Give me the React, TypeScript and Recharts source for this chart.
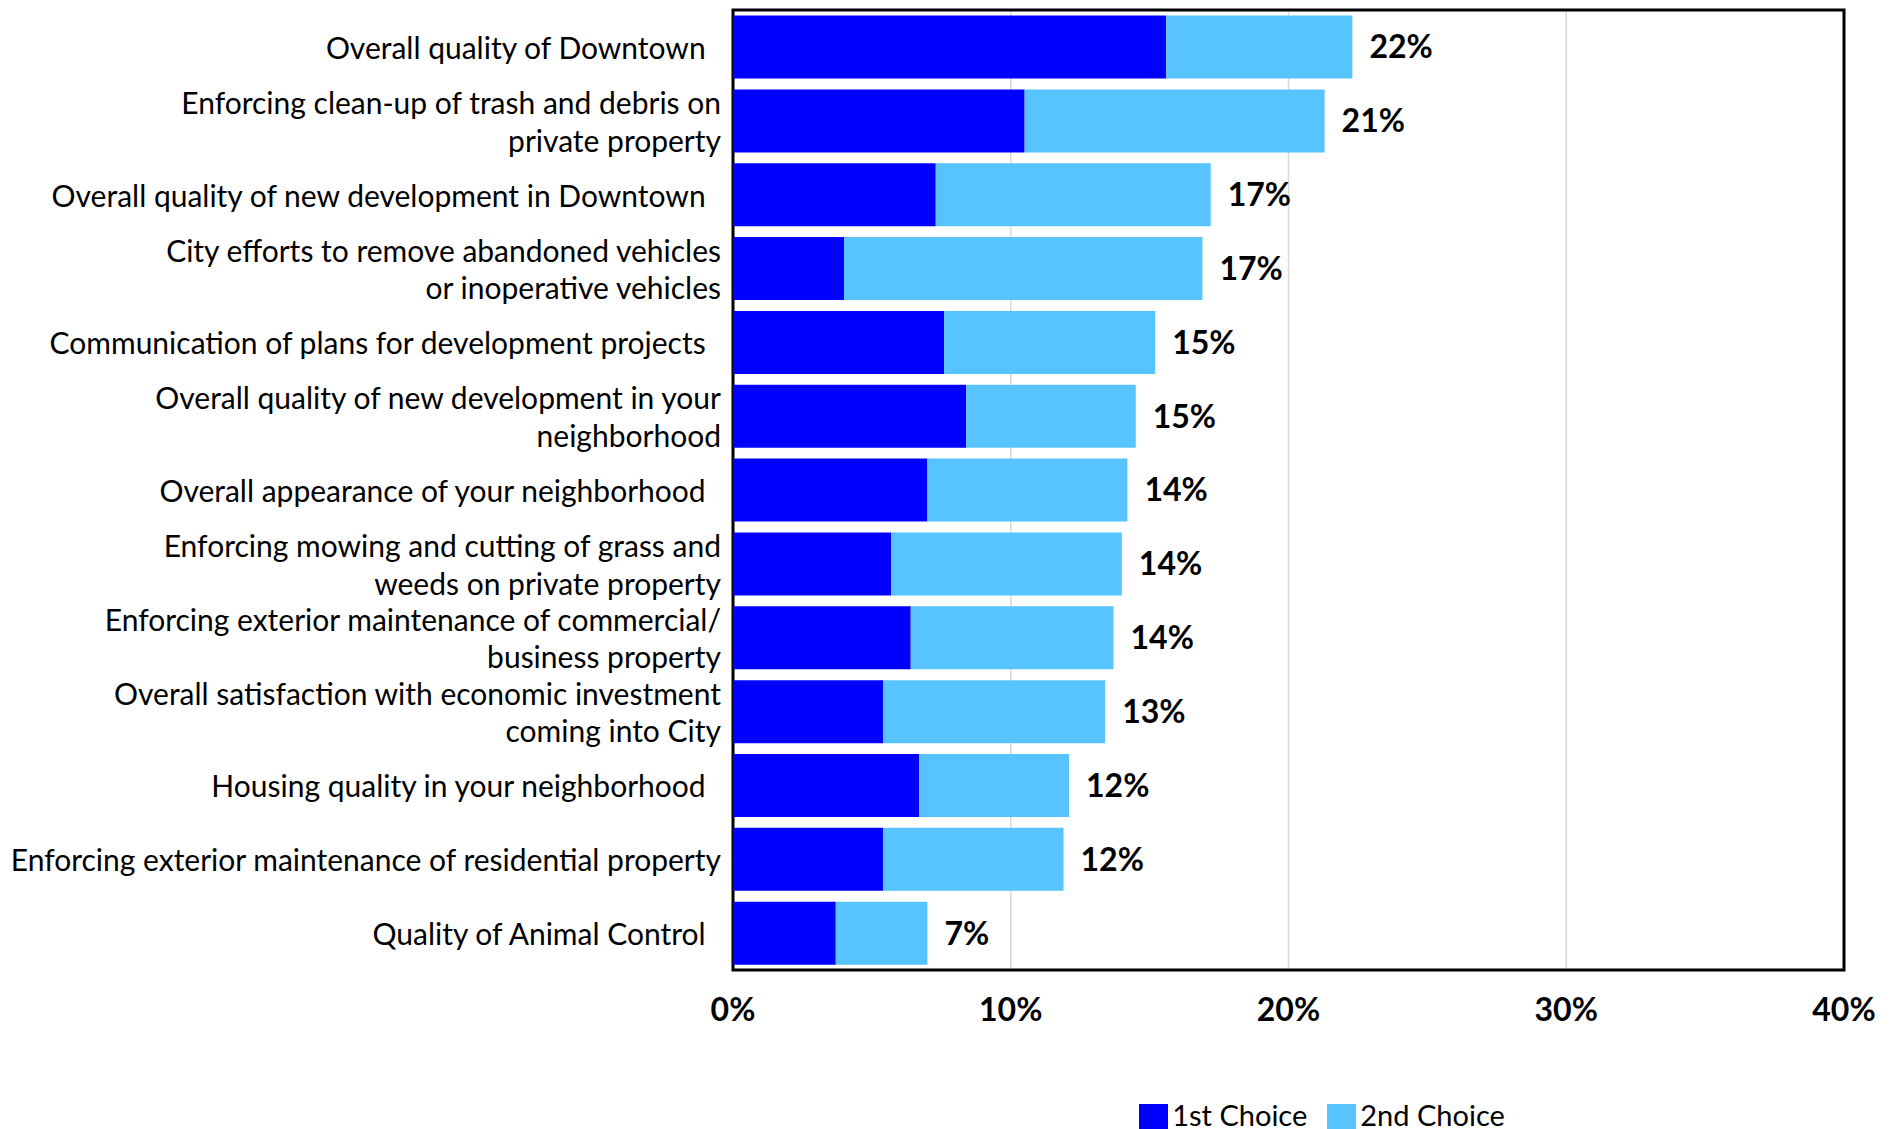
import { BarChart, Bar, XAxis, YAxis, CartesianGrid, Legend, LabelList, ReferenceArea } from 'recharts';

// survey items, "\n" marks the line break used in the original labels
const categories = [
    'Overall quality of Downtown  ',
    'Enforcing clean-up of trash and debris on\nprivate property',
    'Overall quality of new development in Downtown  ',
    'City efforts to remove abandoned vehicles\nor inoperative vehicles',
    'Communication of plans for development projects  ',
    'Overall quality of new development in your\nneighborhood',
    'Overall appearance of your neighborhood  ',
    'Enforcing mowing and cutting of grass and\nweeds on private property',
    'Enforcing exterior maintenance of commercial/\nbusiness property',
    'Overall satisfaction with economic investment\ncoming into City',
    'Housing quality in your neighborhood  ',
    'Enforcing exterior maintenance of residential property',
    'Quality of Animal Control  ',
];

const firstChoice = [15.6, 10.5, 7.3, 4.0, 7.6, 8.4, 7.0, 5.7, 6.4, 5.4, 6.7, 5.4, 3.7];
const secondChoice = [6.7, 10.8, 9.9, 12.9, 7.6, 6.1, 7.2, 8.3, 7.3, 8.0, 5.4, 6.5, 3.3];
const totalLabels = ['22%', '21%', '17%', '17%', '15%', '15%', '14%', '14%', '14%', '13%', '12%', '12%', '7%'];
const xTicks = [0, 10, 20, 30, 40];

const data = categories.map((name, i) => ({
    name,
    first: firstChoice[i],
    second: secondChoice[i],
    label: totalLabels[i],
}));

const FONT = 'Lato, "Open Sans", sans-serif';

function CategoryTick({ x, y, payload }: any) {
    const lines = String(payload.value).split('\n');
    const lineH = 37.5;
    const startY = y - ((lines.length - 1) * lineH) / 2;
    return (
        <text x={x} y={startY} textAnchor="end" fill="#000" fontSize={30} fontFamily={FONT} style={{ whiteSpace: 'pre' }}>
            {lines.map((ln, i) => (
                <tspan key={i} x={x} y={startY + i * lineH} dominantBaseline="central">
                    {ln}
                </tspan>
            ))}
        </text>
    );
}

export default function App() {
    return (
        <div style={{ position: 'absolute', left: 0, top: 0, background: '#fff' }}>
            <BarChart
                width={1898}
                height={1129}
                data={data}
                layout="vertical"
                margin={{ top: 10, right: 54, left: 0, bottom: 0 }}
                barCategoryGap="7.5%"
            >
                <CartesianGrid horizontal={false} stroke="#d9d9d9" strokeWidth={1.5} />
                <XAxis
                    type="number"
                    domain={[0, 40]}
                    ticks={xTicks}
                    tickFormatter={(v) => `${v}%`}
                    axisLine={false}
                    tickLine={false}
                    tickSize={0}
                    tickMargin={28}
                    height={119}
                    tick={{ fill: '#000', fontSize: 32, fontWeight: 700, fontFamily: FONT }}
                />
                <YAxis
                    type="category"
                    dataKey="name"
                    width={733}
                    axisLine={false}
                    tickLine={false}
                    tickSize={0}
                    tickMargin={12}
                    interval={0}
                    tick={<CategoryTick />}
                />
                <Bar dataKey="first" name="1st Choice" stackId="a" fill="#0000FF" isAnimationActive={false} />
                <Bar dataKey="second" name="2nd Choice" stackId="a" fill="#57C4FF" isAnimationActive={false}>
                    <LabelList
                        dataKey="label"
                        position="right"
                        offset={17}
                        fill="#000"
                        style={{ fontSize: 32, fontWeight: 700, fontFamily: FONT }}
                    />
                </Bar>
                <ReferenceArea x1={0} x2={40} fill="none" stroke="#000" strokeWidth={3} ifOverflow="visible" />
                <Legend
                    verticalAlign="bottom"
                    iconType="square"
                    iconSize={29}
                    formatter={(v) => <span style={{ color: '#000', paddingRight: 10 }}>{v}</span>}
                    wrapperStyle={{ height: 40, fontSize: 29, fontFamily: FONT, left: 1122, top: 1097, width: 420, textAlign: 'left' }}
                />
            </BarChart>
        </div>
    );
}
